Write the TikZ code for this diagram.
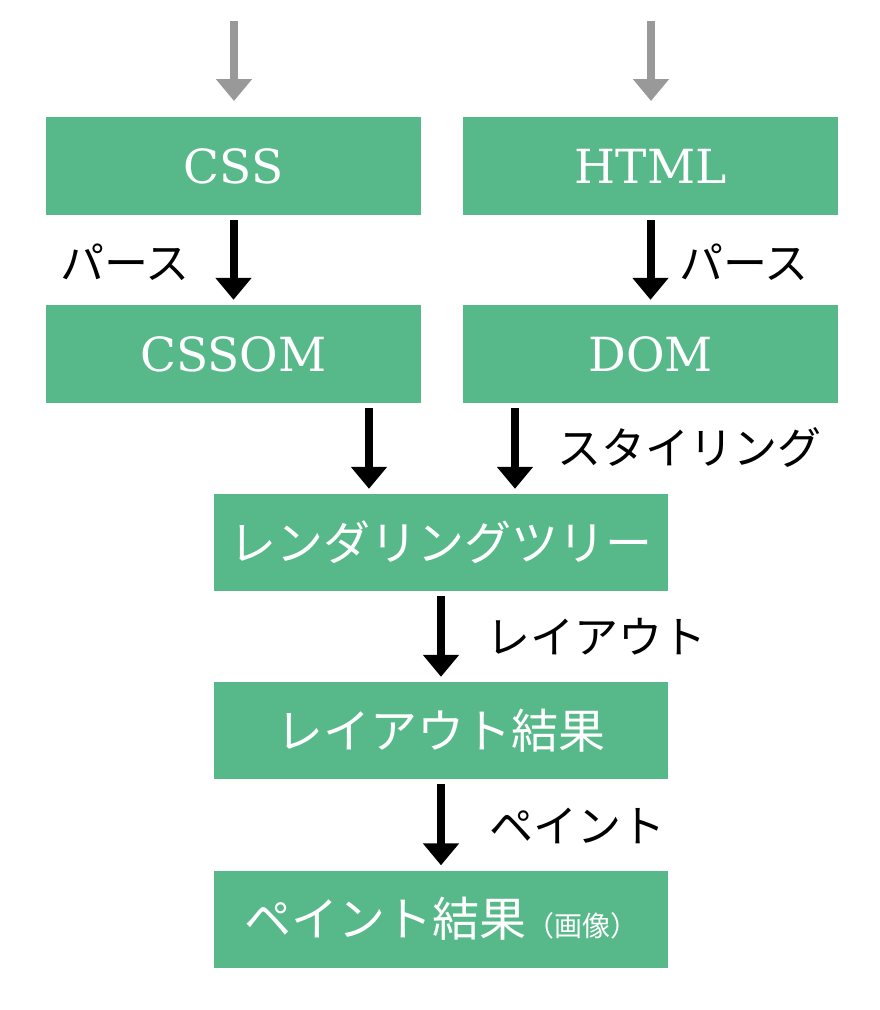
\documentclass[tikz,border=0pt]{standalone}
\usepackage{fontspec}
\setmainfont{DejaVu Serif}
\newfontfamily\jp{Noto Sans CJK JP}
\usetikzlibrary{arrows.meta}
\definecolor{boxgreen}{RGB}{87,185,138}
\definecolor{ingray}{RGB}{153,153,153}
\tikzset{
  box/.style={fill=boxgreen, draw=none, text=white, inner sep=0pt, anchor=center},
  wbox/.style={box, minimum width=375pt, minimum height=98pt, font=\fontsize{47}{47}\selectfont},
  jbox/.style={box, minimum width=454pt, minimum height=97pt, font=\jp\fontsize{47}{47}\selectfont},
  lbl/.style={font=\jp\fontsize{44}{44}\selectfont, text=black, inner sep=0pt},
  arr/.style={line width=8pt, -{Triangle[width=35pt,length=22pt]}, shorten <=5pt, shorten >=5pt},
  inarr/.style={line width=8pt, ingray, -{Triangle[width=35pt,length=22pt]}}
}
\begin{document}
\begin{tikzpicture}[x=1pt,y=-1pt]
\useasboundingbox (0,0) rectangle (880,1010);
\node[wbox] (css) at (233.5,166) {CSS};
\node[wbox] (html) at (650.5,166) {HTML};
\node[wbox] (cssom) at (233.5,354) {CSSOM};
\node[wbox] (dom) at (650.5,354) {DOM};
\node[jbox] (render) at (441,542.5) {レンダリングツリー};
\node[jbox] (layout) at (441,730.5) {レイアウト結果};
\node[jbox] (paint) at (441,919) {ペイント結果{\fontsize{28}{28}\selectfont（画像）}};

\coordinate (cssin) at (234,21);
\coordinate (cssend) at (234,101);
\coordinate (htmlin) at (651,21);
\coordinate (htmlend) at (651,101);
\coordinate (xa) at (369,0);
\coordinate (xb) at (515,0);

\draw[inarr] (cssin) -- (cssend);
\draw[inarr] (htmlin) -- (htmlend);
\draw[arr] (css) -- (cssom);
\draw[arr] (html) -- (dom);
\draw[arr] (cssom.south -| xa) -- (render.north -| xa);
\draw[arr] (dom.south -| xb) -- (render.north -| xb);
\draw[arr] (render) -- (layout);
\draw[arr] (layout) -- (paint);

\node[lbl] (l1) at (125,262) {パース};
\node[lbl] (l2) at (744,262) {パース};
\node[lbl] (l3) at (689,448) {スタイリング};
\node[lbl] (l4) at (596,637) {レイアウト};
\node[lbl] (l5) at (577,826) {ペイント};
\end{tikzpicture}
\end{document}
